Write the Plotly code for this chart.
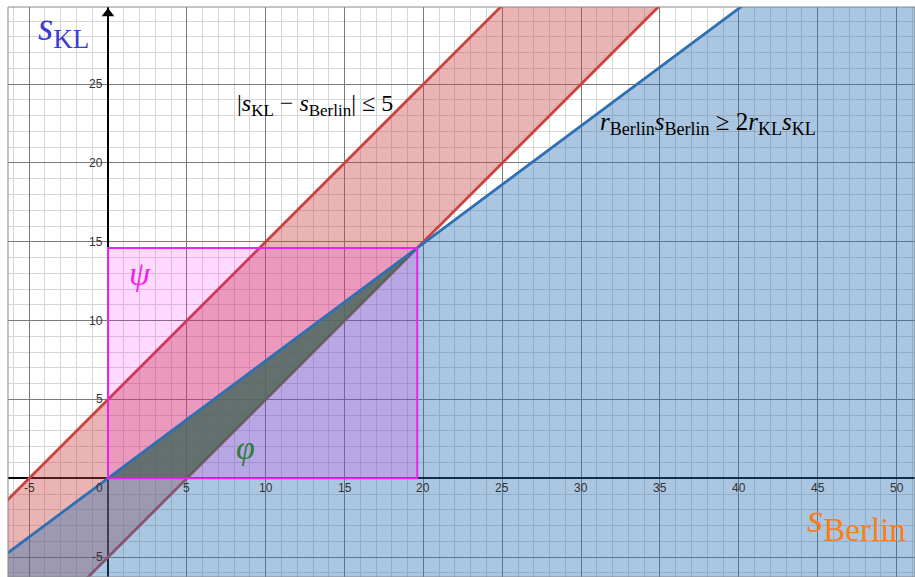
import plotly.graph_objects as go

# --- model parameters ---------------------------------------------------
band_half_width = 5.0          # |s_KL - s_Berlin| <= 5
budget_slope = 0.745           # s_KL <= slope * s_Berlin  (r_Berlin / (2 r_KL))

# axis ticks (major every 5, minor every 1)
x_tick_values = [-5, 0, 5, 10, 15, 20, 25, 30, 35, 40, 45, 50]
x_tick_labels = ["-5", "0", "5", "10", "15", "20", "25", "30", "35", "40", "45", "50"]
y_tick_values = [-5, 5, 10, 15, 20, 25]
y_tick_labels = ["-5", "5", "10", "15", "20", "25"]

x_view = [-6.34, 51.17]
y_view = [-6.26, 29.89]

# --- colours -------------------------------------------------------------
RED = "#c74440"
BLUE = "#2d70b3"
MAGENTA = "#ee22ee"
GREEN = "#2f7d3a"
ORANGE = "#fa7e19"
LABEL_BLUE = "#3b3bd0"

# --- derived geometry ------------------------------------------------------
x_far_left, x_far_right = -30.0, 70.0
y_far_bottom = -30.0

# corner where the band's lower edge meets the budget line
corner_x = band_half_width / (1.0 - budget_slope)
corner_y = budget_slope * corner_x

fig = go.Figure()

def add(trace):
    trace.update(hoverinfo="skip", showlegend=False)
    fig.add_trace(trace)

# red band |y - x| <= 5
band_x = [x_far_left, x_far_right, x_far_right, x_far_left]
band_y = [x_far_left - band_half_width, x_far_right - band_half_width,
          x_far_right + band_half_width, x_far_left + band_half_width]
add(go.Scatter(x=band_x, y=band_y, fill="toself", mode="none",
               fillcolor="rgba(199,68,64,0.4)"))
for offset in (band_half_width, -band_half_width):
    add(go.Scatter(x=[x_far_left, x_far_right],
                   y=[x_far_left + offset, x_far_right + offset],
                   mode="lines", line=dict(color=RED, width=2.8)))

# blue half-plane below the budget line
blue_x = [x_far_left, x_far_right, x_far_right, x_far_left]
blue_y = [budget_slope * x_far_left, budget_slope * x_far_right, y_far_bottom, y_far_bottom]
add(go.Scatter(x=blue_x, y=blue_y, fill="toself", mode="none",
               fillcolor="rgba(45,112,179,0.4)"))

# psi: the rectangle [0, corner_x] x [0, corner_y]
rect_x = [0, corner_x, corner_x, 0, 0]
rect_y = [0, 0, corner_y, corner_y, 0]
add(go.Scatter(x=rect_x, y=rect_y, fill="toself", mode="none",
               fillcolor="rgba(255,0,255,0.15)"))

# phi: triangle between budget line and band edge, above s_KL = 0
tri_x = [0, band_half_width, corner_x, 0]
tri_y = [0, 0, corner_y, 0]
add(go.Scatter(x=tri_x, y=tri_y, fill="toself", mode="lines",
               line=dict(color=GREEN, width=1),
               fillcolor="rgba(72,106,78,0.72)"))

# budget line on top
add(go.Scatter(x=[x_far_left, x_far_right],
               y=[budget_slope * x_far_left, budget_slope * x_far_right],
               mode="lines", line=dict(color=BLUE, width=2.8)))

# rectangle outline
add(go.Scatter(x=rect_x, y=rect_y, mode="lines",
               line=dict(color=MAGENTA, width=2)))

# arrow head on the vertical axis
add(go.Scatter(x=[0], y=[y_view[1] - 0.42], mode="markers", cliponaxis=False,
               marker=dict(symbol="triangle-up", size=11, color="black",
                           line=dict(width=0))))

# --- tick labels placed next to the axes ---------------------------------
tick_font = dict(family="Liberation Sans, Arial", size=12, color="#333333")
annotations = []
for v, t in zip(x_tick_values, x_tick_labels):
    if v == 0:
        annotations.append(dict(x=v, y=0, text=t, showarrow=False, xanchor="right",
                                yanchor="middle", xshift=-3, yshift=-10, font=tick_font))
    else:
        annotations.append(dict(x=v, y=0, text=t, showarrow=False, xanchor="center",
                                yanchor="middle", yshift=-10, font=tick_font))
for v, t in zip(y_tick_values, y_tick_labels):
    annotations.append(dict(x=0, y=v, text=t, showarrow=False, xanchor="right",
                            yanchor="middle", xshift=-3, font=tick_font))


def sub(text, px):
    return f"<sub><span style='font-size:{px}px'>{text}</span></sub>"


serif = "Liberation Serif, Times New Roman, serif"
annotations += [
    dict(x=-2.85, y=28.45, text="<i>s</i>" + sub("KL", 27), showarrow=False,
         font=dict(family=serif, size=39, color=LABEL_BLUE)),
    dict(x=47.45, y=-2.75, text="<i>s</i>" + sub("Berlin", 33), showarrow=False,
         font=dict(family=serif, size=42, color=ORANGE)),
    dict(x=13.1, y=23.7,
         text="|<i>s</i>" + sub("KL", 17) + " − <i>s</i>" + sub("Berlin", 17) + "| ≤ 5",
         showarrow=False, font=dict(family=serif, size=24, color="black")),
    dict(x=38.05, y=22.5,
         text="<i>r</i>" + sub("Berlin", 18) + "<i>s</i>" + sub("Berlin", 18)
              + " ≥ 2<i>r</i>" + sub("KL", 18) + "<i>s</i>" + sub("KL", 18),
         showarrow=False, font=dict(family=serif, size=25, color="black")),
    dict(x=2.03, y=13.0, text="<i>ψ</i>", showarrow=False,
         font=dict(family=serif, size=34, color=MAGENTA)),
    dict(x=8.69, y=1.98, text="<i>φ</i>", showarrow=False,
         font=dict(family=serif, size=34, color=GREEN)),
]

axis_common = dict(
    dtick=5, tick0=0, showgrid=True, gridcolor="#7a7a7a", gridwidth=1,
    minor=dict(dtick=1, tick0=0, showgrid=True, gridcolor="#d6d6d6", gridwidth=1),
    zeroline=True, zerolinecolor="black", zerolinewidth=1.6,
    showticklabels=False, ticks="", showline=False, fixedrange=True,
)

fig.update_layout(
    width=915, height=577,
    margin=dict(l=8, r=0, t=7, b=0),
    paper_bgcolor="white", plot_bgcolor="white",
    xaxis=dict(range=x_view, **axis_common),
    yaxis=dict(range=y_view, **axis_common),
    annotations=annotations,
    shapes=[dict(type="rect", xref="paper", yref="paper", x0=0, x1=1, y0=0, y1=1,
                 line=dict(color="#888888", width=1), layer="above")],
)

fig.write_html("out.html")
